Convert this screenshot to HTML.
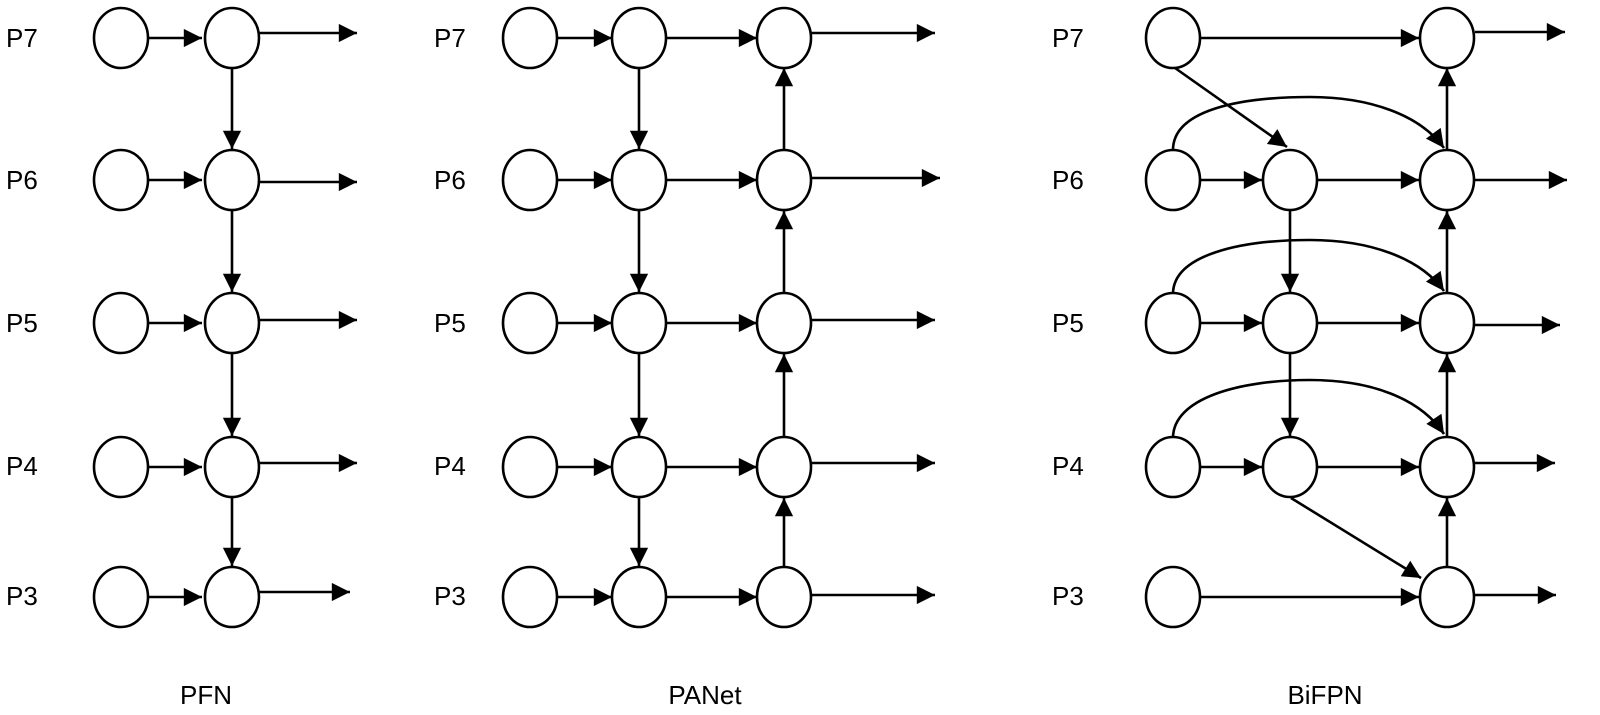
<!DOCTYPE html>
<html><head><meta charset="utf-8"><style>
html,body{margin:0;padding:0;background:#fff;}
svg{display:block;}
text{font-family:"Liberation Sans",sans-serif;font-size:26px;fill:#000;}
</style></head><body>
<svg width="1600" height="715" viewBox="0 0 1600 715" xmlns="http://www.w3.org/2000/svg">
<defs>
<marker id="a" viewBox="0 0 10 10" refX="10" refY="5" markerWidth="8" markerHeight="7" orient="auto" markerUnits="strokeWidth">
<path d="M0,0 L10,5 L0,10 z" fill="#000"/>
</marker>
</defs>
<g stroke="#000" stroke-width="2.6" fill="none">
<line x1="149" y1="38" x2="202" y2="38" marker-end="url(#a)"/>
<line x1="149" y1="180" x2="202" y2="180" marker-end="url(#a)"/>
<line x1="149" y1="323" x2="202" y2="323" marker-end="url(#a)"/>
<line x1="149" y1="467" x2="202" y2="467" marker-end="url(#a)"/>
<line x1="149" y1="597" x2="202" y2="597" marker-end="url(#a)"/>
<line x1="259" y1="33" x2="357" y2="33" marker-end="url(#a)"/>
<line x1="259" y1="182" x2="357" y2="182" marker-end="url(#a)"/>
<line x1="259" y1="320" x2="357" y2="320" marker-end="url(#a)"/>
<line x1="259" y1="463" x2="357" y2="463" marker-end="url(#a)"/>
<line x1="259" y1="592" x2="350" y2="592" marker-end="url(#a)"/>
<line x1="232" y1="68" x2="232" y2="149" marker-end="url(#a)"/>
<line x1="232" y1="211" x2="232" y2="292" marker-end="url(#a)"/>
<line x1="232" y1="354" x2="232" y2="436" marker-end="url(#a)"/>
<line x1="232" y1="498" x2="232" y2="566" marker-end="url(#a)"/>

<line x1="557" y1="38" x2="612" y2="38" marker-end="url(#a)"/>
<line x1="557" y1="180" x2="612" y2="180" marker-end="url(#a)"/>
<line x1="557" y1="323" x2="612" y2="323" marker-end="url(#a)"/>
<line x1="557" y1="467" x2="612" y2="467" marker-end="url(#a)"/>
<line x1="557" y1="597" x2="612" y2="597" marker-end="url(#a)"/>
<line x1="666" y1="38" x2="757" y2="38" marker-end="url(#a)"/>
<line x1="666" y1="180" x2="757" y2="180" marker-end="url(#a)"/>
<line x1="666" y1="323" x2="757" y2="323" marker-end="url(#a)"/>
<line x1="666" y1="467" x2="757" y2="467" marker-end="url(#a)"/>
<line x1="666" y1="597" x2="757" y2="597" marker-end="url(#a)"/>
<line x1="811" y1="33" x2="935" y2="33" marker-end="url(#a)"/>
<line x1="811" y1="178" x2="940" y2="178" marker-end="url(#a)"/>
<line x1="811" y1="320" x2="935" y2="320" marker-end="url(#a)"/>
<line x1="811" y1="463" x2="935" y2="463" marker-end="url(#a)"/>
<line x1="811" y1="595" x2="935" y2="595" marker-end="url(#a)"/>
<line x1="639" y1="68" x2="639" y2="149" marker-end="url(#a)"/>
<line x1="639" y1="211" x2="639" y2="292" marker-end="url(#a)"/>
<line x1="639" y1="354" x2="639" y2="436" marker-end="url(#a)"/>
<line x1="639" y1="498" x2="639" y2="566" marker-end="url(#a)"/>
<line x1="784" y1="566" x2="784" y2="498" marker-end="url(#a)"/>
<line x1="784" y1="436" x2="784" y2="354" marker-end="url(#a)"/>
<line x1="784" y1="292" x2="784" y2="211" marker-end="url(#a)"/>
<line x1="784" y1="149" x2="784" y2="68" marker-end="url(#a)"/>

<line x1="1201" y1="38" x2="1419" y2="38" marker-end="url(#a)"/>
<line x1="1201" y1="180" x2="1262" y2="180" marker-end="url(#a)"/>
<line x1="1201" y1="323" x2="1262" y2="323" marker-end="url(#a)"/>
<line x1="1201" y1="467" x2="1262" y2="467" marker-end="url(#a)"/>
<line x1="1201" y1="597" x2="1419" y2="597" marker-end="url(#a)"/>
<line x1="1318" y1="180" x2="1419" y2="180" marker-end="url(#a)"/>
<line x1="1318" y1="323" x2="1419" y2="323" marker-end="url(#a)"/>
<line x1="1318" y1="467" x2="1419" y2="467" marker-end="url(#a)"/>
<line x1="1475" y1="32" x2="1565" y2="32" marker-end="url(#a)"/>
<line x1="1475" y1="180" x2="1567" y2="180" marker-end="url(#a)"/>
<line x1="1475" y1="325" x2="1560" y2="325" marker-end="url(#a)"/>
<line x1="1475" y1="463" x2="1555" y2="463" marker-end="url(#a)"/>
<line x1="1475" y1="595" x2="1556" y2="595" marker-end="url(#a)"/>
<line x1="1290" y1="211" x2="1290" y2="292" marker-end="url(#a)"/>
<line x1="1290" y1="354" x2="1290" y2="436" marker-end="url(#a)"/>
<line x1="1447" y1="566" x2="1447" y2="498" marker-end="url(#a)"/>
<line x1="1447" y1="436" x2="1447" y2="354" marker-end="url(#a)"/>
<line x1="1447" y1="292" x2="1447" y2="211" marker-end="url(#a)"/>
<line x1="1447" y1="149" x2="1447" y2="68" marker-end="url(#a)"/>
<line x1="1175" y1="68" x2="1287" y2="147" marker-end="url(#a)"/>
<line x1="1291" y1="498" x2="1421" y2="578" marker-end="url(#a)"/>
<path d="M1173,150 C1173,110 1240,97 1310,97 C1370,97 1420,115 1444,148" marker-end="url(#a)"/>
<path d="M1173,294 C1173,255 1240,240 1310,240 C1370,240 1420,258 1444,291" marker-end="url(#a)"/>
<path d="M1173,438 C1173,398 1240,380 1310,380 C1370,380 1420,398 1444,434" marker-end="url(#a)"/>
<g fill="#fff">
<ellipse cx="121" cy="38" rx="27" ry="30"/><ellipse cx="232" cy="38" rx="27" ry="30"/>
<ellipse cx="121" cy="180" rx="27" ry="30"/><ellipse cx="232" cy="180" rx="27" ry="30"/>
<ellipse cx="121" cy="323" rx="27" ry="30"/><ellipse cx="232" cy="323" rx="27" ry="30"/>
<ellipse cx="121" cy="467" rx="27" ry="30"/><ellipse cx="232" cy="467" rx="27" ry="30"/>
<ellipse cx="121" cy="597" rx="27" ry="30"/><ellipse cx="232" cy="597" rx="27" ry="30"/>
<ellipse cx="530" cy="38" rx="27" ry="30"/><ellipse cx="639" cy="38" rx="27" ry="30"/><ellipse cx="784" cy="38" rx="27" ry="30"/>
<ellipse cx="530" cy="180" rx="27" ry="30"/><ellipse cx="639" cy="180" rx="27" ry="30"/><ellipse cx="784" cy="180" rx="27" ry="30"/>
<ellipse cx="530" cy="323" rx="27" ry="30"/><ellipse cx="639" cy="323" rx="27" ry="30"/><ellipse cx="784" cy="323" rx="27" ry="30"/>
<ellipse cx="530" cy="467" rx="27" ry="30"/><ellipse cx="639" cy="467" rx="27" ry="30"/><ellipse cx="784" cy="467" rx="27" ry="30"/>
<ellipse cx="530" cy="597" rx="27" ry="30"/><ellipse cx="639" cy="597" rx="27" ry="30"/><ellipse cx="784" cy="597" rx="27" ry="30"/>
<ellipse cx="1173" cy="38" rx="27" ry="30"/><ellipse cx="1447" cy="38" rx="27" ry="30"/>
<ellipse cx="1173" cy="180" rx="27" ry="30"/><ellipse cx="1290" cy="180" rx="27" ry="30"/><ellipse cx="1447" cy="180" rx="27" ry="30"/>
<ellipse cx="1173" cy="323" rx="27" ry="30"/><ellipse cx="1290" cy="323" rx="27" ry="30"/><ellipse cx="1447" cy="323" rx="27" ry="30"/>
<ellipse cx="1173" cy="467" rx="27" ry="30"/><ellipse cx="1290" cy="467" rx="27" ry="30"/><ellipse cx="1447" cy="467" rx="27" ry="30"/>
<ellipse cx="1173" cy="597" rx="27" ry="30"/><ellipse cx="1447" cy="597" rx="27" ry="30"/>
</g>
</g>
<g>
<text x="6" y="47">P7</text><text x="6" y="189">P6</text><text x="6" y="332">P5</text><text x="6" y="475">P4</text><text x="6" y="605">P3</text>
<text x="434" y="47">P7</text><text x="434" y="189">P6</text><text x="434" y="332">P5</text><text x="434" y="475">P4</text><text x="434" y="605">P3</text>
<text x="1052" y="47">P7</text><text x="1052" y="189">P6</text><text x="1052" y="332">P5</text><text x="1052" y="475">P4</text><text x="1052" y="605">P3</text>
<text x="206" y="704" text-anchor="middle">PFN</text>
<text x="705" y="704" text-anchor="middle">PANet</text>
<text x="1325" y="704" text-anchor="middle">BiFPN</text>
</g>
</svg>
</body></html>
